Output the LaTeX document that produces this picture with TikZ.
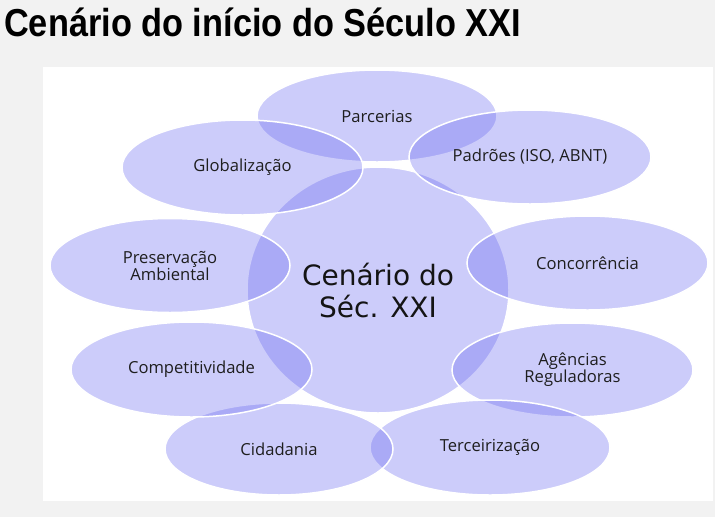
\documentclass[tikz,border=0pt]{standalone}
\usepackage{fontspec}
\usetikzlibrary{shapes.geometric}
\newfontfamily\titlefont{Liberation Sans}
\newfontfamily\labfont{Open Sans}
\newfontfamily\cenfont{DejaVu Sans}
\definecolor{bgGray}{HTML}{F2F2F2}
\definecolor{bub}{RGB}{109,109,241}
\definecolor{labtext}{HTML}{1E1E1E}
\definecolor{centext}{HTML}{141414}
\tikzset{
  bubble/.style={ellipse, fill=bub, fill opacity=0.35, text opacity=1,
    draw=white, draw opacity=1, line width=1.5pt, inner sep=0pt,
    align=center, text=labtext, font=\labfont\fontsize{16.6}{17}\selectfont},
  centre/.style={bubble, text=centext, font=\cenfont\fontsize{28}{32}\selectfont}
}
\begin{document}
\begin{tikzpicture}[x=1pt,y=-1pt]
\useasboundingbox (0,0) rectangle (715,517);
\fill[bgGray] (0,0) rectangle (715,517);
\fill[white] (43,67) rectangle (713,501);
\node[anchor=base west, inner sep=0pt] (title) at (4,36)
  {\scalebox{0.88}[1]{\titlefont\bfseries\fontsize{39}{44}\selectfont Cenário do início do Século XXI}};
\node[centre, minimum width=262pt, minimum height=246pt] (c) at (378,290) {Cenário do\\Séc. XXI};
\node[bubble, minimum width=240pt, minimum height=92pt] (parc) at (377,116) {Parcerias};
\node[bubble, minimum width=242pt, minimum height=94pt] (padr) at (530,157) {Padrões (ISO, ABNT)};
\node[bubble, minimum width=241pt, minimum height=94pt] (conc) at (587.5,263) {Concorrência};
\node[bubble, minimum width=241pt, minimum height=94pt] (agen) at (572.5,370) {Agências\\Reguladoras};
\node[bubble, minimum width=240pt, minimum height=95pt] (terc) at (490,447.5) {Terceirização};
\node[bubble, minimum width=228pt, minimum height=92pt] (cida) at (279,449) {Cidadania};
\node[bubble, minimum width=241pt, minimum height=95pt] (comp) at (191.5,369.5) {Competitividade};
\node[bubble, minimum width=240pt, minimum height=94pt] (pres) at (170,265.5) {Preservação\\Ambiental};
\node[bubble, minimum width=241pt, minimum height=95pt] (glob) at (242.5,167.5) {Globalização};
\end{tikzpicture}
\end{document}
